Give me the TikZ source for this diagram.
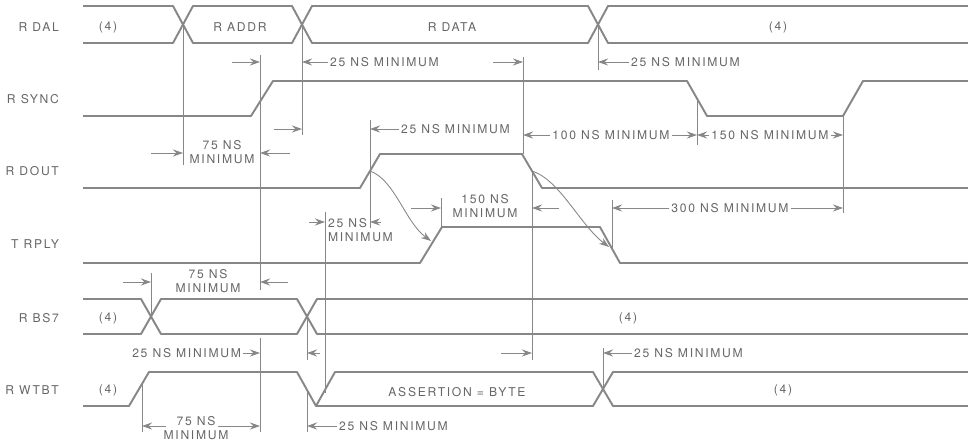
\documentclass[tikz,border=0pt]{standalone}
\usepackage{fontspec}
\newfontfamily\sigfont{TeX Gyre Heros}[LetterSpace=14]
\usepackage{tikz}
\usetikzlibrary{arrows.meta}
\definecolor{trace}{gray}{0.53}
\definecolor{note}{gray}{0.4}

\begin{document}
\begin{tikzpicture}[x=0.02cm, y=-0.02cm,
    wave/.style = {draw=trace, line width=1.1pt, line join=round},
    tick/.style = {draw=trace, line width=0.5pt},
    dim/.style = {draw=trace, line width=0.5pt, -{Stealth[length=2mm, width=1.4mm]}},
    txt/.style = {text=note, font=\sigfont\fontsize{6.9}{8.2}\selectfont, inner sep=1pt},
    signame/.style = {txt, anchor=east},
    multi/.style = {txt, align=center}]
    \useasboundingbox (0,0) rectangle (968,442);
    % Signal names
    \node[signame] (dal) at (61,27) {R DAL};
    \node[signame] (sync) at (61,99) {R SYNC};
    \node[signame] (dout) at (61,171) {R DOUT};
    \node[signame] (rply) at (61,244) {T RPLY};
    \node[signame] (bs7) at (61,318) {R BS7};
    \node[signame] (wtbt) at (61,390) {R WTBT};
    % Waveforms
    \draw[wave] (83,6) -- (173,6) -- (193,43) -- (292,43) -- (312,6) -- (588,6) -- (608,43) -- (968,43);
    \draw[wave] (83,43) -- (173,43) -- (193,6) -- (292,6) -- (312,43) -- (588,43) -- (608,6) -- (968,6);
    \draw[wave] (83,116) -- (251,116) -- (273,81) -- (687,81) -- (707,116) -- (843,116) -- (863,81) -- (968,81);
    \draw[wave] (83,188) -- (360,188) -- (380,154) -- (522,154) -- (542,188) -- (968,188);
    \draw[wave] (83,263) -- (420,263) -- (442,227) -- (600,227) -- (620,263) -- (968,263);
    \draw[wave] (83,299) -- (141,299) -- (161,334) -- (297,334) -- (317,299) -- (968,299);
    \draw[wave] (83,334) -- (141,334) -- (161,299) -- (297,299) -- (317,334) -- (968,334);
    \draw[wave] (83,406) -- (129,406) -- (149,372) -- (297,372) -- (316,406) -- (593,406) -- (613,372) -- (968,372);
    \draw[wave] (316,406) -- (335,372) -- (593,372) -- (613,406) -- (968,406);
    % Bus contents
    \node[txt] (dal0) at (108,27) {(4)};
    \node[txt] (addr) at (240,27) {R ADDR};
    \node[txt] (data) at (452,27) {R DATA};
    \node[txt] (dal4) at (778,27) {(4)};
    \node[txt] (bs0) at (108,318) {(4)};
    \node[txt] (bs4) at (628,318) {(4)};
    \node[txt] (wt0) at (108,390) {(4)};
    \node[txt] (byte) at (457,392) {ASSERTION = BYTE};
    \node[txt] (wt4) at (783,390) {(4)};
    % Events
    \coordinate (adrOn) at (183,25);
    \coordinate (adrOff) at (302,25);
    \coordinate (datOff) at (598,25);
    \coordinate (syncOn) at (260,98);
    \coordinate (syncOff) at (697,98);
    \coordinate (syncEnd) at (843,116);
    \coordinate (doutOn) at (370,171);
    \coordinate (doutTop) at (523,154);
    \coordinate (doutOff) at (532,171);
    \coordinate (rplyOn) at (441,227);
    \coordinate (rplyRise) at (431,241);
    \coordinate (rplyFall) at (609,247);
    \coordinate (rplyOff) at (612,249);
    \coordinate (bsOn) at (151,316);
    \coordinate (bsOff) at (307,316);
    \coordinate (wtOn) at (142,384);
    \coordinate (wtLeft) at (307,391);
    \coordinate (wtRight) at (325,390);
    \coordinate (wtOff) at (603,389);
    % Ticks
    \draw[tick] (adrOn) -- ++(0,140);
    \draw[tick] (adrOff) -- ++(0,110);
    \draw[tick] (datOff) -- ++(0,45);
    \draw[tick] (syncOn) ++(0,-43) -- ++(0,235);
    \draw[tick] (syncOn) ++(0,240) -- ++(0,94);
    \draw[tick] (doutTop) -- ++(0,-97);
    \draw[tick] (doutOn) ++(0,-51) -- ++(0,108);
    \draw[tick] (syncOff) -- ++(0,47);
    \draw[tick] (syncEnd) -- ++(0,97);
    \draw[tick] (doutOff) -- ++(0,189);
    \draw[tick] (rplyOn) -- ++(0,-29);
    \draw[tick] (rplyOff) -- ++(0,-49);
    \draw[tick] (wtRight) ++(0,3) -- ++(0,-181);
    \draw[tick] (bsOn) -- ++(0,-43);
    \draw[tick] (bsOff) -- ++(0,44);
    \draw[tick] (wtOn) -- ++(0,48);
    \draw[tick] (wtLeft) -- ++(0,41);
    \draw[tick] (wtOff) -- ++(0,-41);
    % Rows
    \coordinate (rowHold) at (0,62);
    \coordinate (rowSet) at (0,129);
    \coordinate (rowNeg) at (0,135);
    \coordinate (rowAdr) at (0,153);
    \coordinate (rowRply) at (0,208);
    \coordinate (rowWt) at (0,222);
    \coordinate (rowBs) at (0,282);
    \coordinate (rowBsH) at (0,353);
    \coordinate (rowLow) at (0,426);
    % Labels
    \node[multi] (setA) at (222,152) {75 NS\\MINIMUM};
    \node[txt, anchor=west] (holdA) at (328,62) {25 NS MINIMUM};
    \node[txt, anchor=west] (holdD) at (629,62) {25 NS MINIMUM};
    \node[txt, anchor=west] (setD) at (399,129) {25 NS MINIMUM};
    \node[txt] (negS) at (611,135) {100 NS MINIMUM};
    \node[txt] (lowS) at (770,135) {150 NS MINIMUM};
    \node[txt, align=left, anchor=north west] (wtSet) at (326,216) {25 NS\\MINIMUM};
    \node[multi] (rplySet) at (485,206) {150 NS\\MINIMUM};
    \node[txt] (longR) at (730,208) {300 NS MINIMUM};
    \node[multi] (bsSet) at (208,281) {75 NS\\MINIMUM};
    \node[txt, anchor=east] (bsHold) at (243,353) {25 NS MINIMUM};
    \node[txt, anchor=west] (wtHold) at (632,353) {25 NS MINIMUM};
    \node[multi] (wtAdr) at (196,428) {75 NS\\MINIMUM};
    \node[txt, anchor=west] (wtLow) at (337,426) {25 NS MINIMUM};
    % Dimensions
    \draw[dim] (adrOn |- rowAdr) ++(-32,0) -- (adrOn |- rowAdr);
    \draw[dim] (syncOn |- rowAdr) ++(30,0) -- (syncOn |- rowAdr);
    \draw[dim] (syncOn |- rowHold) ++(-28,0) -- (syncOn |- rowHold);
    \draw[dim] (holdA.west) -- (adrOff |- rowHold);
    \draw[dim] (doutTop |- rowHold) ++(-30,0) -- (doutTop |- rowHold);
    \draw[dim] (holdD.west) -- (datOff |- rowHold);
    \draw[dim] (adrOff |- rowSet) ++(-28,0) -- (adrOff |- rowSet);
    \draw[dim] (setD.west) -- (doutOn |- rowSet);
    \draw[dim] (negS.west) -- (doutTop |- rowNeg);
    \draw[dim] (negS.east) -- (syncOff |- rowNeg);
    \draw[dim] (lowS.west) -- (syncOff |- rowNeg);
    \draw[dim] (lowS.east) -- (syncEnd |- rowNeg);
    \draw[dim] (wtRight |- rowWt) ++(-16,0) -- (wtRight |- rowWt);
    \draw[dim] (doutOn |- rowWt) ++(11,0) -- (doutOn |- rowWt);
    \draw[dim] (rplyOn |- rowRply) ++(-30,0) -- (rplyOn |- rowRply);
    \draw[dim] (doutOff |- rowRply) ++(27,0) -- (doutOff |- rowRply);
    \draw[dim] (longR.west) -- (rplyOff |- rowRply);
    \draw[dim] (longR.east) -- (syncEnd |- rowRply);
    \draw[dim] (bsOn |- rowBs) ++(-28,0) -- (bsOn |- rowBs);
    \draw[dim] (syncOn |- rowBs) ++(28,0) -- (syncOn |- rowBs);
    \draw[dim] (bsHold.east) -- (syncOn |- rowBsH);
    \draw[dim] (bsOff |- rowBsH) ++(13,0) -- (bsOff |- rowBsH);
    \draw[dim] (doutOff |- rowBsH) ++(-31,0) -- (doutOff |- rowBsH);
    \draw[dim] (wtHold.west) -- (wtOff |- rowBsH);
    \draw[dim] (wtOn |- rowLow) ++(24,0) -- (wtOn |- rowLow);
    \draw[dim] (syncOn |- rowLow) ++(-42,0) -- (syncOn |- rowLow);
    \draw[dim] (wtLow.west) -- (wtLeft |- rowLow);
    % Handshake curves
    \draw[dim] (doutOn) .. controls (395,180) and (405,222) .. (rplyRise);
    \draw[dim] (doutOff) .. controls (560,180) and (580,225) .. (rplyFall);
\end{tikzpicture}
\end{document}
